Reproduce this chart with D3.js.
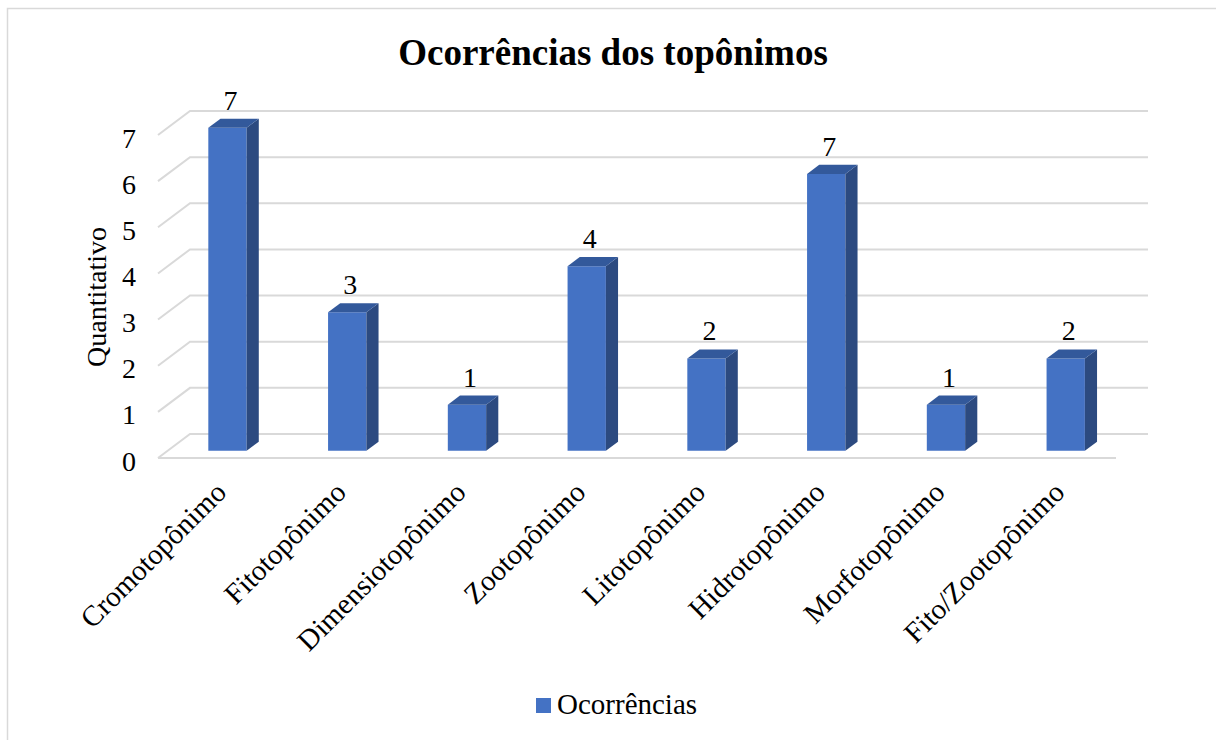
<!DOCTYPE html>
<html>
<head>
<meta charset="utf-8">
<script src="https://cdn.jsdelivr.net/npm/d3@7"></script>
<style>
  body { margin: 0; background: #fff; }
  svg { display: block; font-family: "Liberation Serif", "Times New Roman", serif; }
</style>
</head>
<body>
<svg id="chart" width="1216" height="740"></svg>
<script>
var categories = ['Cromotopônimo', 'Fitotopônimo', 'Dimensiotopônimo', 'Zootopônimo',
  'Litotopônimo', 'Hidrotopônimo', 'Morfotopônimo', 'Fito/Zootopônimo'];
var values = [7, 3, 1, 4, 2, 6, 1, 2];
var labels = ['7', '3', '1', '4', '2', '7', '1', '2'];
var yTicks = [0, 1, 2, 3, 4, 5, 6, 7];

var FRONT = '#4472c4';
var SIDE = '#2c4a80';
var TOP = '#33599b';
var GRID = '#d9d9d9';

// depth offset for the 3D look (floor front edge -> back wall)
var DX = 32, DY = -24;
var Z0 = 0.3, Z1 = 0.68;

var svg = d3.select('#chart');

svg.append('rect')
    .attr('x', 7.5).attr('y', 8.5)
    .attr('width', 1240).attr('height', 760)
    .attr('fill', 'none').attr('stroke', GRID).attr('stroke-width', 1.5);

var x = d3.scaleBand().domain(categories).range([158, 1116]).padding(0);
var y = d3.scaleLinear().domain([0, 7]).range([458, 135]);

function px(xv, z) { return xv + DX * z; }
function py(v, z) { return y(v) + DY * z; }

// title
svg.append('text')
    .attr('x', 613).attr('y', 65)
    .attr('text-anchor', 'middle')
    .attr('font-size', 37).attr('font-weight', 'bold')
    .text('Ocorrências dos topônimos');

// gridlines: short diagonal on the side wall, then along the back wall
var grid = svg.append('g').attr('stroke', GRID).attr('stroke-width', 2).attr('fill', 'none');
yTicks.forEach(function(v) {
  grid.append('path')
      .attr('d', 'M' + px(158, 0) + ',' + py(v, 0) +
                 'L' + px(158, 1) + ',' + py(v, 1) +
                 'L' + px(1116, 1) + ',' + py(v, 1));
});
grid.append('line')
    .attr('x1', 158).attr('y1', y(0))
    .attr('x2', 1116).attr('y2', y(0));

// y tick labels
svg.append('g').selectAll('text')
    .data(yTicks)
  .enter().append('text')
    .attr('x', 136)
    .attr('y', function(d) { return y(d) + 3; })
    .attr('text-anchor', 'end')
    .attr('dominant-baseline', 'central')
    .attr('font-size', 28)
    .text(function(d) { return d; });

svg.append('text')
    .attr('transform', 'translate(96,297) rotate(-90)')
    .attr('text-anchor', 'middle')
    .attr('dominant-baseline', 'central')
    .attr('font-size', 28)
    .text('Quantitativo');

// bars
var bw = x.bandwidth() * 0.32;
var bars = svg.append('g').selectAll('g')
    .data(categories.map(function(c, i) { return { cat: c, v: values[i], label: labels[i] }; }))
  .enter().append('g');

bars.each(function(d) {
  var g = d3.select(this);
  var x0 = x(d.cat) + x.bandwidth() / 2 - bw / 2;
  var x1 = x0 + bw;
  var pts = function(list) {
    return list.map(function(p) { return px(p[0], p[2]) + ',' + py(p[1], p[2]); }).join(' ');
  };
  // front face
  g.append('polygon').attr('fill', FRONT)
      .attr('points', pts([[x0, 0, Z0], [x1, 0, Z0], [x1, d.v, Z0], [x0, d.v, Z0]]));
  // side face
  g.append('polygon').attr('fill', SIDE)
      .attr('points', pts([[x1, 0, Z0], [x1, 0, Z1], [x1, d.v, Z1], [x1, d.v, Z0]]));
  // top face
  g.append('polygon').attr('fill', TOP)
      .attr('points', pts([[x0, d.v, Z0], [x1, d.v, Z0], [x1, d.v, Z1], [x0, d.v, Z1]]));
  // data label
  g.append('text')
      .attr('x', px((x0 + x1) / 2, Z0) + 3)
      .attr('y', py(d.v, Z1) - 9)
      .attr('text-anchor', 'middle')
      .attr('font-size', 28)
      .text(d.label);
});

// category labels, rotated
svg.append('g').selectAll('text')
    .data(categories)
  .enter().append('text')
    .attr('transform', function(d) {
      return 'translate(' + (x(d) + x.bandwidth() / 2 + 3) + ',487) rotate(-45)';
    })
    .attr('text-anchor', 'end')
    .attr('dominant-baseline', 'central')
    .attr('font-size', 29)
    .text(function(d) { return d; });

// legend
svg.append('rect')
    .attr('x', 536).attr('y', 698)
    .attr('width', 15).attr('height', 15)
    .attr('fill', FRONT);
svg.append('text')
    .attr('x', 557).attr('y', 714)
    .attr('font-size', 29)
    .text('Ocorrências');
</script>
</body>
</html>
